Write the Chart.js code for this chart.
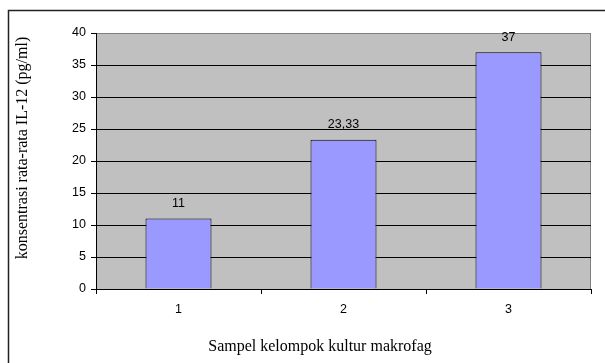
<!DOCTYPE html>
<html>
<head>
    <title>Konsentrasi IL-12</title>
    <script src="https://cdn.jsdelivr.net/npm/chart.js"></script>
    <style>
        body {
            margin: 0;
            padding: 0;
            overflow: hidden;
            background-color: #fff;
        }
        #wrap {
            position: fixed;
            top: 0;
            left: 0;
            width: 605px;
            height: 363px;
        }
    </style>
</head>
<body>
    <div id="wrap">
        <canvas id="myChart" width="605" height="363"></canvas>
    </div>

    <script>
        // datos
        const kategori = ['1', '2', '3'];
        const nilai = [11, 23.33, 37];
        const yTitle = 'konsentrasi rata-rata IL-12 (pg/ml)';
        const xTitle = 'Sampel kelompok kultur makrofag';

        const sansFont = "'Liberation Sans', Arial, sans-serif";
        const serifFont = "'Liberation Serif', 'Times New Roman', serif";

        // fondo gris del área, borde exterior y títulos
        const decor = {
            id: 'decor',
            beforeDraw(chart) {
                const { ctx, chartArea: a } = chart;
                ctx.save();
                ctx.strokeStyle = '#222';
                ctx.lineWidth = 1.5;
                ctx.strokeRect(8.5, 10.5, 700, 700);
                ctx.fillStyle = '#c0c0c0';
                ctx.fillRect(a.left, a.top, a.right - a.left, a.bottom - a.top);
                ctx.strokeStyle = '#808080';
                ctx.lineWidth = 1;
                ctx.strokeRect(a.left + 0.5, a.top + 0.5, a.right - a.left - 1, a.bottom - a.top);
                ctx.restore();
            },
            afterDraw(chart) {
                const ctx = chart.ctx;
                ctx.save();
                ctx.fillStyle = '#000';
                ctx.font = '16px ' + serifFont;
                ctx.textAlign = 'center';
                ctx.textBaseline = 'middle';
                ctx.fillText(xTitle, 320, 347);
                ctx.translate(23, 148);
                ctx.rotate(-Math.PI / 2);
                ctx.fillText(yTitle, 0, 0);
                ctx.restore();
            }
        };

        // etiquetas de valor encima de cada barra
        const barLabels = {
            id: 'barLabels',
            afterDatasetsDraw(chart) {
                const ctx = chart.ctx;
                const meta = chart.getDatasetMeta(0);
                ctx.save();
                ctx.fillStyle = '#000';
                ctx.font = '12.5px ' + sansFont;
                ctx.textAlign = 'center';
                ctx.textBaseline = 'middle';
                meta.data.forEach((bar, i) => {
                    const txt = String(nilai[i]).replace('.', ',');
                    ctx.fillText(txt, bar.x, bar.y - 15);
                });
                ctx.restore();
            }
        };

        new Chart(document.getElementById('myChart'), {
            type: 'bar',
            data: {
                labels: kategori,
                datasets: [{
                    data: nilai,
                    backgroundColor: '#9999ff',
                    borderColor: '#000',
                    borderWidth: 1,
                    barPercentage: 0.4,
                    categoryPercentage: 1
                }]
            },
            options: {
                responsive: false,
                animation: false,
                layout: {
                    padding: { top: 33, right: 14, left: 0, bottom: 0 }
                },
                plugins: {
                    legend: { display: false },
                    tooltip: { enabled: false }
                },
                scales: {
                    x: {
                        afterFit(scale) { scale.height = 74; },
                        grid: {
                            offset: true,
                            drawOnChartArea: false,
                            drawTicks: true,
                            tickLength: 5,
                            color: '#000'
                        },
                        border: { color: '#000', width: 1 },
                        ticks: {
                            color: '#000',
                            padding: 8,
                            font: { size: 12.5, family: sansFont }
                        }
                    },
                    y: {
                        afterFit(scale) { scale.width = 96; },
                        min: 0,
                        max: 40,
                        grid: {
                            color: ctx => ctx.tick && ctx.tick.value === 40 ? '#808080' : '#000',
                            tickColor: '#000',
                            tickLength: 5
                        },
                        border: { color: '#000', width: 1 },
                        ticks: {
                            stepSize: 5,
                            color: '#000',
                            padding: 5,
                            font: { size: 12.5, family: sansFont }
                        }
                    }
                }
            },
            plugins: [decor, barLabels]
        });
    </script>
</body>
</html>
